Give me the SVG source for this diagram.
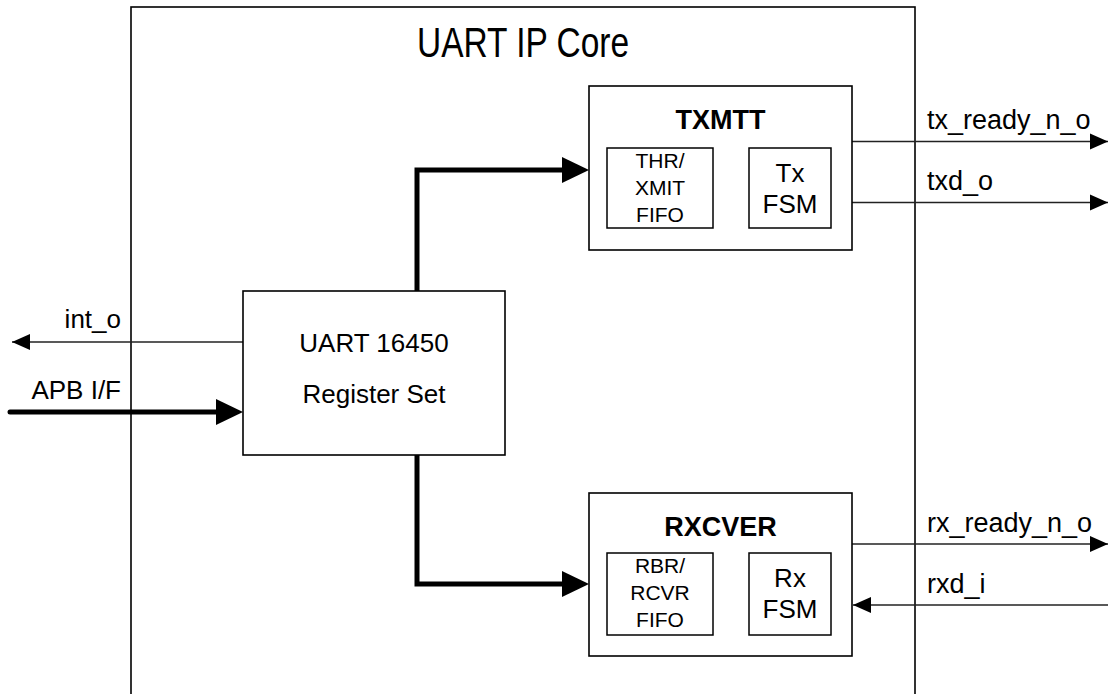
<svg xmlns="http://www.w3.org/2000/svg" width="1108" height="694" viewBox="0 0 1108 694">
<defs>
<style>
.box{fill:#fff;stroke:#000;stroke-width:1.6}
.ibox{fill:#fff;stroke:#000;stroke-width:1.5}
.t{font-family:"Liberation Sans",Arial,sans-serif;fill:#000}
.title{font-family:"Liberation Sans Narrow","Liberation Sans",Arial,sans-serif;fill:#000}
.thin{fill:none;stroke:#222;stroke-width:1.3}
.thick{fill:none;stroke:#000;stroke-width:5;stroke-linecap:round}
</style>
<marker id="small" markerUnits="userSpaceOnUse" markerWidth="18" markerHeight="18" viewBox="0 0 18 18" refX="18" refY="9" orient="auto">
<path d="M0,1 L18,9 L0,17 Z" fill="#000"/>
</marker>
</defs>
<rect width="1108" height="694" fill="#fff"/>
<g id="uart_ip_core">
<rect class="box" x="131" y="7" width="784" height="720"/>
<text class="title" x="523" y="57" font-size="42" text-anchor="middle" textLength="212" lengthAdjust="spacingAndGlyphs">UART IP Core</text>
</g>
<g id="connectors">
<path class="thick" d="M417,291 L417,170 L562,170"/>
<path d="M562,157 L589,170 L562,183 Z" fill="#000"/>
<path class="thick" d="M417,455 L417,584 L562,584"/>
<path d="M562,571 L589,584 L562,597 Z" fill="#000"/>
<path class="thick" d="M10,412 L216,412"/>
<path d="M216,399 L243,412 L216,425 Z" fill="#000"/>
<path class="thin" d="M243,342 L12,342" marker-end="url(#small)"/>
<path class="thin" d="M852,141.5 L1108,141.5" marker-end="url(#small)"/>
<path class="thin" d="M852,202.5 L1108,202.5" marker-end="url(#small)"/>
<path class="thin" d="M852,544 L1108,544" marker-end="url(#small)"/>
<path class="thin" d="M1108,605 L853,605" marker-end="url(#small)"/>
</g>
<g id="labels">
<text class="t" x="121" y="328" font-size="26" text-anchor="end">int_o</text>
<text class="t" x="121" y="399" font-size="26" text-anchor="end">APB I/F</text>
<text class="t" x="927" y="129" font-size="27">tx_ready_n_o</text>
<text class="t" x="927" y="190" font-size="27">txd_o</text>
<text class="t" x="927" y="532" font-size="27">rx_ready_n_o</text>
<text class="t" x="927" y="593" font-size="27">rxd_i</text>
</g>
<g id="register_set">
<rect class="box" x="243" y="291" width="262" height="164"/>
<text class="t" x="374" y="352" font-size="26" text-anchor="middle">UART 16450</text>
<text class="t" x="374" y="403" font-size="26" text-anchor="middle">Register Set</text>
</g>
<g id="txmtt">
<rect class="box" x="589" y="86" width="263" height="164"/>
<text class="t" x="720.5" y="129" font-size="27" font-weight="bold" text-anchor="middle">TXMTT</text>
<g id="thr_fifo">
<rect class="ibox" x="607" y="148" width="106" height="80"/>
<text class="t" x="660" y="168" font-size="21" text-anchor="middle">THR/</text>
<text class="t" x="660" y="195" font-size="21" text-anchor="middle">XMIT</text>
<text class="t" x="660" y="222" font-size="21" text-anchor="middle">FIFO</text>
</g>
<g id="tx_fsm">
<rect class="ibox" x="749" y="148" width="82" height="80"/>
<text class="t" x="790" y="182" font-size="26" text-anchor="middle">Tx</text>
<text class="t" x="790" y="213" font-size="26" text-anchor="middle">FSM</text>
</g>
</g>
<g id="rxcver">
<rect class="box" x="589" y="493" width="263" height="163"/>
<text class="t" x="720.5" y="536" font-size="27" font-weight="bold" text-anchor="middle">RXCVER</text>
<g id="rbr_fifo">
<rect class="ibox" x="607" y="553" width="106" height="82"/>
<text class="t" x="660" y="573" font-size="21" text-anchor="middle">RBR/</text>
<text class="t" x="660" y="600" font-size="21" text-anchor="middle">RCVR</text>
<text class="t" x="660" y="627" font-size="21" text-anchor="middle">FIFO</text>
</g>
<g id="rx_fsm">
<rect class="ibox" x="749" y="553" width="82" height="82"/>
<text class="t" x="790" y="587" font-size="26" text-anchor="middle">Rx</text>
<text class="t" x="790" y="618" font-size="26" text-anchor="middle">FSM</text>
</g>
</g>
</svg>
